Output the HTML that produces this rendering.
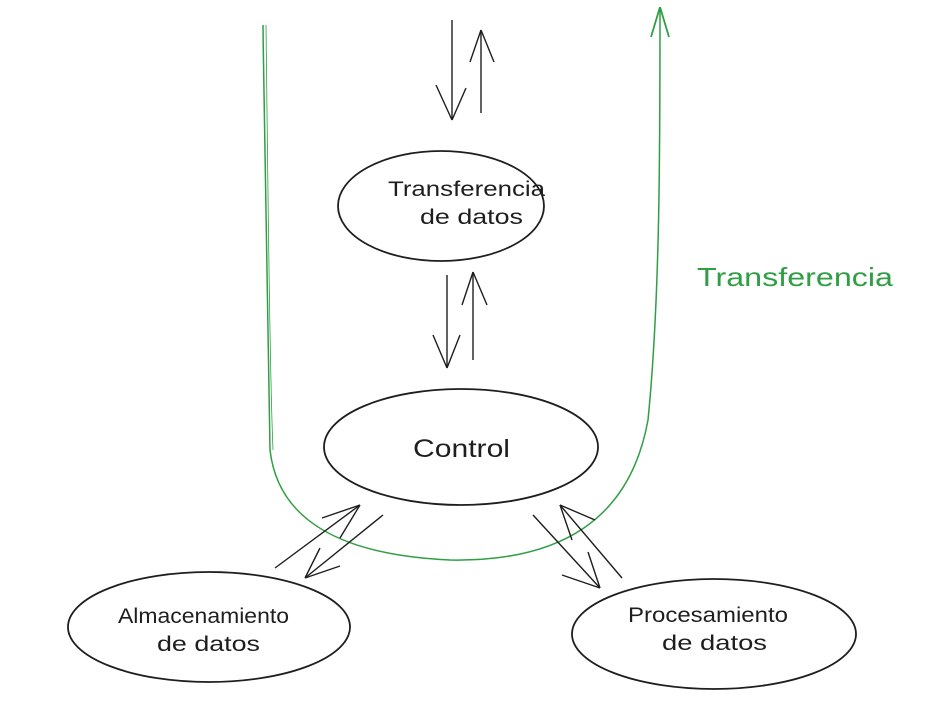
<!DOCTYPE html>
<html><head><meta charset="utf-8"><style>
html,body{margin:0;padding:0;background:#fff;}
svg{display:block;}
text{font-family:"Liberation Sans",sans-serif;}
</style></head><body>
<svg width="949" height="709" viewBox="0 0 949 709" xmlns="http://www.w3.org/2000/svg">
<defs>
<marker id="ahg" viewBox="0 0 10 10" refX="9" refY="5" markerWidth="30" markerHeight="30" orient="auto" markerUnits="userSpaceOnUse">
<path d="M0,2 L10,5 L0,8" fill="none" stroke="#2f9e44" stroke-width="0.6"/></marker>
</defs>
<g fill="none" stroke="#1e1e1e" stroke-width="1.8">
<ellipse cx="441" cy="206" rx="103" ry="55"/>
<ellipse cx="461" cy="447" rx="137" ry="58"/>
<ellipse cx="209" cy="627" rx="141" ry="55"/>
<ellipse cx="714" cy="634" rx="142" ry="55"/>
</g>
<path d="M263,25 C265,200 268,380 270,450 C278,520 340,555 450,560 C560,562 630,520 648,420 C660,300 660,150 660,10" fill="none" stroke="#2f9e44" stroke-width="1.5" marker-end="url(#ahg)"/>
<path d="M266,25 C268,200 270,380 273,450" fill="none" stroke="#2f9e44" stroke-width="0.8"/>
<g stroke="#1e1e1e" stroke-width="1.4" fill="none">
<line x1="452" y1="20" x2="452" y2="120"/>
<path d="M452,120 L436,85 M452,120 L466,88"/>
<line x1="481" y1="113" x2="481" y2="30"/>
<path d="M481,30 L470,62 M481,30 L494,62"/>
<line x1="447" y1="275" x2="447" y2="368"/>
<path d="M447,368 L433,335 M447,368 L460,335"/>
<line x1="473" y1="360" x2="473" y2="272"/>
<path d="M473,272 L462,305 M473,272 L487,305"/>
<line x1="275" y1="568" x2="360" y2="505"/>
<path d="M360,505 L322,518 M360,505 L340,538"/>
<line x1="383" y1="515" x2="305" y2="578"/>
<path d="M305,578 L340,566 M305,578 L320,548"/>
<line x1="533" y1="515" x2="600" y2="588"/>
<path d="M600,588 L562,575 M600,588 L588,552"/>
<line x1="622" y1="578" x2="560" y2="505"/>
<path d="M560,505 L572,540 M560,505 L595,520"/>
</g>
<g fill="#1e1e1e" font-size="21" lengthAdjust="spacingAndGlyphs">
<text x="388" y="196" textLength="157" lengthAdjust="spacingAndGlyphs">Transferencia</text>
<text x="420" y="224" textLength="103" lengthAdjust="spacingAndGlyphs">de datos</text>
<text x="413" y="457" font-size="25" textLength="97" lengthAdjust="spacingAndGlyphs">Control</text>
<text x="118" y="623" textLength="171" lengthAdjust="spacingAndGlyphs">Almacenamiento</text>
<text x="157" y="651" textLength="103" lengthAdjust="spacingAndGlyphs">de datos</text>
<text x="628" y="622" textLength="160" lengthAdjust="spacingAndGlyphs">Procesamiento</text>
<text x="662" y="650" textLength="105" lengthAdjust="spacingAndGlyphs">de datos</text>
</g>
<text x="697" y="286" font-size="26" fill="#2f9e44" textLength="196" lengthAdjust="spacingAndGlyphs">Transferencia</text>
</svg>
</body></html>
